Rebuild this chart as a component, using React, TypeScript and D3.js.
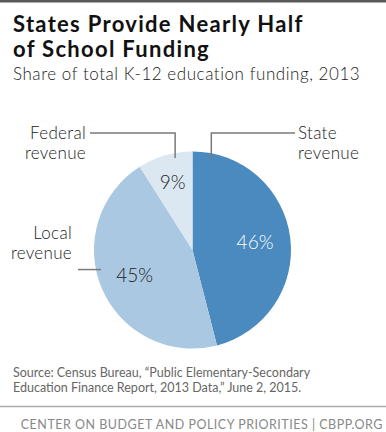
import React from 'react';
import * as d3 from 'd3';

// share of total K-12 funding, 2013
const sources = ['State', 'Local', 'Federal'];
const shares = [46, 45, 9];
const sliceColors = ['#4a8abe', '#aac8e1', '#dbe7f1'];
const labelColors = ['#ffffff', '#222222', '#222222'];
const labelLines = [['State', 'revenue'], ['Local', 'revenue'], ['Federal', 'revenue']];

const W = 386;
const H = 432;
const FONT = 'Lato, "Open Sans", sans-serif';

export default function App() {
  const cx = 192.5;
  const cy = 250;
  const r = 98.5;

  const pie = d3.pie<number>().sort(null).value((d) => d);
  const arcs = pie(shares);
  const arc = d3.arc<d3.PieArcDatum<number>>().innerRadius(0).outerRadius(r);

  // point on the pie at angle a, radius rr
  const pt = (a: number, rr: number): [number, number] => [Math.sin(a) * rr, -Math.cos(a) * rr];

  // leader lines: where they touch the slice, then elbow to the label
  const anchorFrac = [0.07, 0.57, 0.67];
  const anchors = arcs.map((a, i) => pt(a.startAngle + (a.endAngle - a.startAngle) * anchorFrac[i], r * 0.95));

  const leaders: [number, number][][] = [
    [[anchors[0][0], anchors[0][1]], [anchors[0][0], 133 - cy], [295 - cx, 133 - cy]],
    [[anchors[1][0], anchors[1][1]], [78 - cx, anchors[1][1]]],
    [[anchors[2][0], anchors[2][1]], [anchors[2][0], 133 - cy], [90 - cx, 133 - cy]],
  ];
  const line = d3.line();

  const labelPos = [
    { x: 298, y: 133, anchor: 'start' },
    { x: 72, y: 233, anchor: 'end' },
    { x: 86, y: 133, anchor: 'end' },
  ];

  return (
    <svg width={W} height={H} style={{ position: 'absolute', left: 0, top: 0, background: '#fff' }} fontFamily={FONT}>
      <rect x={0} y={0} width={W} height={2.5} fill="#58585a" />
      <text x={13} y={32} fontSize={22} fontWeight={700} fill="#111" letterSpacing={1.3}>States Provide Nearly Half</text>
      <text x={13} y={57} fontSize={22} fontWeight={700} fill="#111" letterSpacing={1.3}>of School Funding</text>
      <text x={13} y={80} fontSize={17} fontWeight={300} fill="#222" letterSpacing={0.55}>Share of total K-12 education funding, 2013</text>

      <g transform={`translate(${cx},${cy})`}>
        {arcs.map((a, i) => (
          <path key={sources[i]} d={arc(a) || ''} fill={sliceColors[i]} />
        ))}
        {leaders.map((p, i) => (
          <path key={i} d={line(p) || ''} fill="none" stroke="#7a7a7a" strokeWidth={1.5} />
        ))}
        {arcs.map((a, i) => {
          const mid = (a.startAngle + a.endAngle) / 2;
          const rr = a.endAngle - a.startAngle < 0.8 ? r * 0.72 : r * 0.64;
          const [x, y] = pt(mid, rr);
          return (
            <text key={i} x={x} y={y} dy="0.35em" textAnchor="middle" fontSize={19} fontWeight={300} fill={labelColors[i]}>
              {shares[i]}%
            </text>
          );
        })}
      </g>

      {labelLines.map((ls, i) => (
        <text key={i} x={labelPos[i].x} y={labelPos[i].y} textAnchor={labelPos[i].anchor} fontSize={17} fontWeight={300} fill="#222" letterSpacing={0.3}>
          {ls.map((t, j) => (
            <tspan key={j} x={labelPos[i].x} dy={j === 0 ? '0.35em' : 20}>{t}</tspan>
          ))}
        </text>
      ))}

      <text x={13} y={377} fontSize={12.5} fill="#666">Source: Census Bureau, “Public Elementary-Secondary</text>
      <text x={13} y={392} fontSize={12.5} fill="#666">Education Finance Report, 2013 Data,” June 2, 2015.</text>
      <line x1={0} x2={W} y1={406.5} y2={406.5} stroke="#aaa" strokeWidth={1.5} />
      <text x={383} y={429} textAnchor="end" fontSize={12.5} fill="#888" letterSpacing={0.5}>CENTER ON BUDGET AND POLICY PRIORITIES | CBPP.ORG</text>
    </svg>
  );
}
